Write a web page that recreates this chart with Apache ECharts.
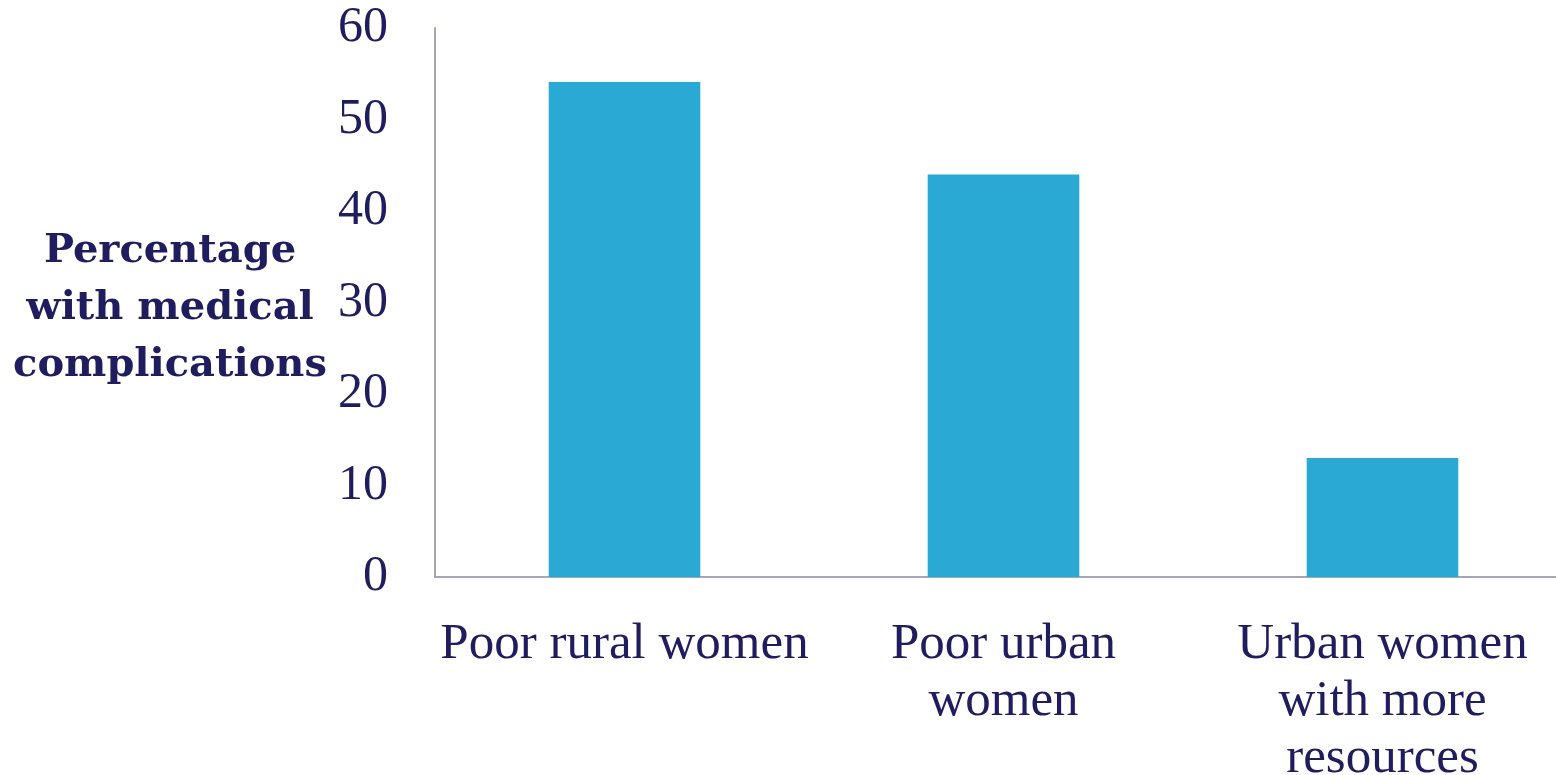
<!DOCTYPE html>
<html>
<head>
<meta charset="utf-8">
<script src="https://cdn.jsdelivr.net/npm/echarts@6/dist/echarts.min.js"></script>
<style>
html,body{margin:0;padding:0;background:#fff;}
#chart{width:1556px;height:775px;}
</style>
</head>
<body>
<div id="chart"></div>
<script>
const categories = ['Poor rural women', 'Poor urban\nwomen', 'Urban women\nwith more\nresources'];
const values = [54.1, 44.0, 13.0];
const yTicks = [0, 10, 20, 30, 40, 50, 60];
const yAxisTitle = 'Percentage\nwith medical\ncomplications';

const textColor = '#201D5F';
const chart = echarts.init(document.getElementById('chart'));
chart.setOption({
  animation: false,
  backgroundColor: '#ffffff',
  grid: { left: 435, top: 28, width: 1137, bottom: 198, containLabel: false, outerBoundsMode: 'none' },
  xAxis: {
    type: 'category',
    data: categories,
    axisLine: { show: true, lineStyle: { color: '#A7A6B9', width: 2 } },
    axisTick: { show: false },
    axisLabel: {
      interval: 0,
      margin: 39,
      color: textColor,
      fontFamily: 'Liberation Serif',
      fontSize: 51,
      lineHeight: 57
    }
  },
  yAxis: {
    type: 'value',
    min: yTicks[0],
    max: yTicks[yTicks.length - 1],
    interval: 10,
    axisLine: { show: true, lineStyle: { color: '#A7A6B9', width: 2 } },
    axisTick: { show: false },
    splitLine: { show: false },
    axisLabel: {
      margin: 47,
      color: textColor,
      fontFamily: 'Liberation Serif',
      fontSize: 50
    }
  },
  graphic: [{
    type: 'text',
    x: 170,
    y: 309,
    style: {
      text: yAxisTitle,
      fill: textColor,
      font: 'bold 40px "DejaVu Serif"',
      lineHeight: 57,
      align: 'center',
      verticalAlign: 'middle'
    }
  }],
  series: [{
    type: 'bar',
    data: values,
    barWidth: '40%',
    itemStyle: { color: '#29A9D4' }
  }]
});
</script>
</body>
</html>
